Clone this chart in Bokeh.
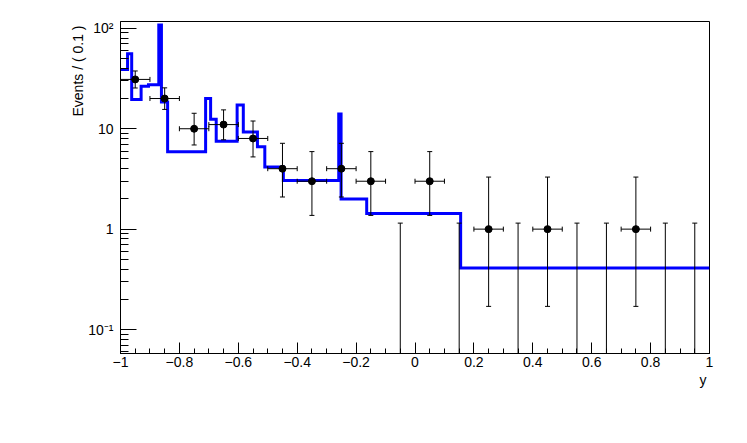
import numpy as np
from bokeh.plotting import figure
from bokeh.models import (FixedTicker, CustomJSTickFormatter, Whisker, TeeHead,
                          ColumnDataSource, Range1d, Title)
from bokeh.embed import file_html
from bokeh.resources import INLINE

# ---- data ----
bin_centers = [-0.95, -0.85, -0.75, -0.65, -0.55, -0.45, -0.35, -0.25, -0.15, -0.05,
               0.05, 0.15, 0.25, 0.35, 0.45, 0.55, 0.65, 0.75, 0.85, 0.95]
counts = [31, 20, 10, 11, 8, 4, 3, 4, 3, 0, 3, 0, 1, 0, 1, 0, 0, 1, 0, 0]
# asymmetric Poisson errors (low, high) for each count
err_low = [5.54, 4.43, 3.11, 3.24, 2.76, 1.91, 1.63, 1.91, 1.63, 0.0,
           1.63, 0.0, 0.83, 0.0, 0.83, 0.0, 0.0, 0.83, 0.0, 0.0]
err_high = [6.62, 5.54, 4.26, 4.41, 3.94, 3.16, 2.92, 3.16, 2.92, 1.148,
            2.92, 1.148, 2.30, 1.148, 2.30, 1.148, 1.148, 2.30, 1.148, 1.148]
bin_width = 0.1

# blue step curve (pdf): bin edges and levels
pdf_edges = [-1.0, -0.976, -0.962, -0.93, -0.905, -0.87, -0.861, -0.84, -0.711, -0.694,
             -0.675, -0.604, -0.583, -0.535, -0.510, -0.447, -0.259, -0.251, -0.164, 0.155, 1.0]
pdf_values = [39.0, 56.0, 19.5, 26.5, 27.5, 108.0, 18.5, 5.9, 20.0, 12.4,
              7.5, 17.2, 9.3, 6.6, 4.15, 3.05, 14.0, 2.0, 1.43, 0.41]

x_ticks = [-1, -0.8, -0.6, -0.4, -0.2, 0, 0.2, 0.4, 0.6, 0.8, 1]
x_tick_labels = ["\u22121", "\u22120.8", "\u22120.6", "\u22120.4", "\u22120.2", "0",
                 "0.2", "0.4", "0.6", "0.8", "1"]
y_ticks = [0.1, 1, 10, 100]
y_tick_labels = ["10\u207b\u00b9", "1", "10", "10\u00b2"]

x_title = "y"
y_title = "Events / ( 0.1 )"

# ---- figure ----
y_lo, y_hi = 0.0577, 117.0
p = figure(width=747, height=443, x_range=Range1d(-1, 1), y_range=Range1d(y_lo, y_hi),
           y_axis_type="log", output_backend="svg", toolbar_location=None,
           min_border_left=120, min_border_right=38, min_border_top=21, min_border_bottom=90)
p.grid.visible = False
p.outline_line_color = "black"
p.outline_line_width = 1
p.background_fill_color = "white"
p.border_fill_color = "white"

FONT = "Liberation Sans"

x_minor = [round(v, 2) for v in np.arange(-1.0, 1.0001, 0.05)]
y_minor = [k * 10.0 ** e for e in range(-2, 3) for k in range(2, 10)
           if y_lo <= k * 10.0 ** e <= y_hi]

xa = p.xaxis[0]
xa.ticker = FixedTicker(ticks=x_ticks, minor_ticks=x_minor)
xa.formatter = CustomJSTickFormatter(args=dict(vals=x_ticks, labs=x_tick_labels), code="""
    let best = 0, d = 1e9;
    for (let i = 0; i < vals.length; i++) { const dd = Math.abs(vals[i] - tick); if (dd < d) { d = dd; best = i; } }
    return labs[best];
""")
xa.major_tick_in = 11
xa.major_tick_out = 0
xa.minor_tick_in = 5
xa.minor_tick_out = 0
xa.major_label_standoff = 3
ya = p.yaxis[0]
ya.ticker = FixedTicker(ticks=y_ticks, minor_ticks=y_minor)
ya.formatter = CustomJSTickFormatter(args=dict(vals=y_ticks, labs=y_tick_labels), code="""
    let best = 0, d = 1e9;
    for (let i = 0; i < vals.length; i++) { const dd = Math.abs(Math.log10(vals[i]) - Math.log10(tick)); if (dd < d) { d = dd; best = i; } }
    return labs[best];
""")
ya.major_tick_in = 16
ya.major_tick_out = 0
ya.minor_tick_in = 8
ya.minor_tick_out = 0
ya.major_label_standoff = 7
for ax in (xa, ya):
    ax.axis_line_color = "black"
    ax.major_tick_line_color = "black"
    ax.minor_tick_line_color = "black"
    ax.major_label_text_font = FONT
    ax.major_label_text_font_size = "14px"
    ax.major_label_text_color = "black"

# ---- pdf curve ----
p.step(x=pdf_edges, y=pdf_values + [pdf_values[-1]], mode="after",
       line_color="#0000ff", line_width=3, line_join="miter")

# ---- data points ----
cnt = np.array(counts, dtype=float)
xc = np.array(bin_centers)
nz = cnt > 0
lo_arr = cnt - np.array(err_low)
hi_arr = cnt + np.array(err_high)

src_nz = ColumnDataSource(dict(x=xc[nz], y=cnt[nz], lo=lo_arr[nz], hi=hi_arr[nz],
                               xl=xc[nz] - bin_width / 2, xh=xc[nz] + bin_width / 2))
src_z = ColumnDataSource(dict(x=xc[~nz], lo=np.full((~nz).sum(), y_lo), hi=hi_arr[~nz]))

def tee():
    return TeeHead(size=5, line_color="black", line_width=1)

vw = Whisker(source=src_nz, base="x", lower="lo", upper="hi", dimension="height",
             line_color="black", line_width=1, level="annotation",
             upper_head=tee(), lower_head=tee())
hw = Whisker(source=src_nz, base="y", lower="xl", upper="xh", dimension="width",
             line_color="black", line_width=1, level="annotation",
             upper_head=tee(), lower_head=tee())
zw = Whisker(source=src_z, base="x", lower="lo", upper="hi", dimension="height",
             line_color="black", line_width=1, level="annotation",
             upper_head=tee(), lower_head=None)
p.add_layout(vw)
p.add_layout(hw)
p.add_layout(zw)
p.scatter(x="x", y="y", source=src_nz, size=7, fill_color="black", line_color="black")

# ---- axis titles ----
p.add_layout(Title(text=x_title, align="right", text_font=FONT, text_font_size="14px",
                   text_font_style="normal", text_color="black", standoff=0, offset=3), "below")
p.add_layout(Title(text=y_title, align="right", text_font=FONT, text_font_size="14px",
                   text_font_style="normal", text_color="black", standoff=0, offset=4), "left")

open("out.html", "w").write(file_html(p, INLINE))
